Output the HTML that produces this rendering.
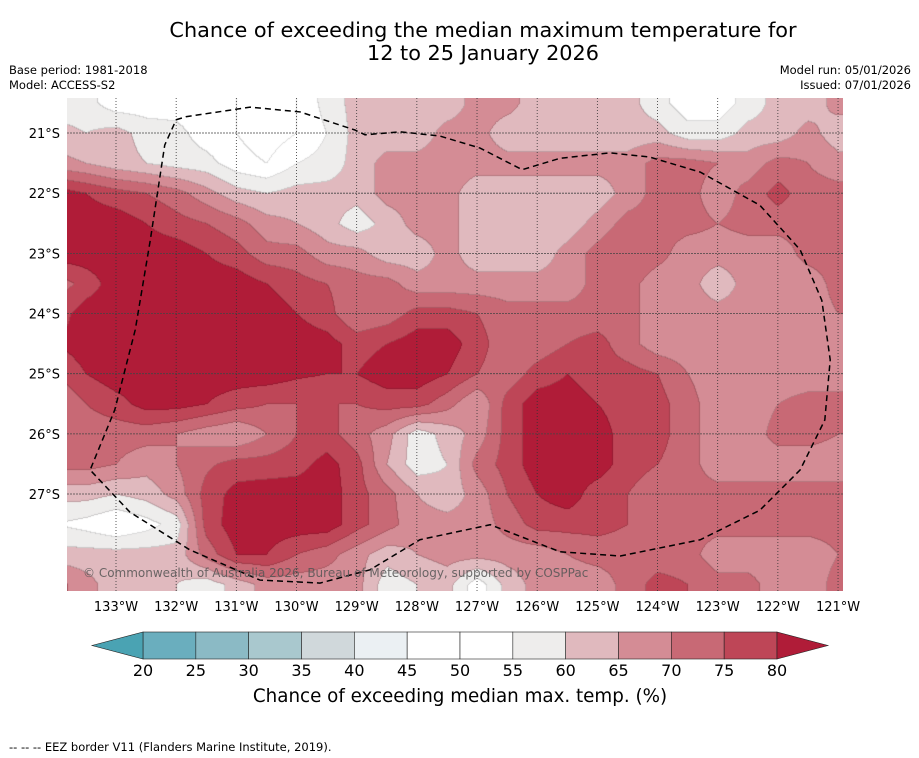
<!DOCTYPE html>
<html><head><meta charset="utf-8"><style>
body{margin:0;background:#fff;font-family:"DejaVu Sans","Liberation Sans",sans-serif;}
#wrap{position:relative;width:919px;height:758px;overflow:hidden;background:#fff}
.t{position:absolute;white-space:nowrap;color:#000}
</style></head><body>
<div id="wrap">
<div class="t" style="left:0;width:966px;text-align:center;top:19px;font-size:20.8px;line-height:23px">Chance of exceeding the median maximum temperature for<br>12 to 25 January 2026</div>
<div class="t" style="left:9px;top:63px;font-size:11.5px;line-height:15px">Base period: 1981-2018<br>Model: ACCESS-S2</div>
<div class="t" style="right:8px;top:63px;font-size:11.5px;line-height:15px;text-align:right">Model run: 05/01/2026<br>Issued: 07/01/2026</div>
<canvas id="map" width="776" height="493" style="position:absolute;left:67px;top:98px"></canvas>
<svg id="ov" width="919" height="758" style="position:absolute;left:0;top:0"></svg>
<div class="t" style="left:83px;top:566px;font-size:12px;color:#555;opacity:0.85">© Commonwealth of Australia 2026, Bureau of Meteorology, supported by COSPPac</div>
<div class="t" style="left:0;width:920px;text-align:center;top:686px;font-size:18.3px">Chance of exceeding median max. temp. (%)</div>
<div class="t" style="left:9px;top:740px;font-size:11.5px">--  --  -- EEZ border V11 (Flanders Marine Institute, 2019).</div>
</div>
<script>
const levels=[20,25,30,35,40,45,50,55,60,65,70,75,80];
const bandColors=["#4aa3b3","#6aaebe","#8bbac5","#a9c8ce","#d0d8db","#ebf0f3","#ffffff","#ffffff","#eeedec","#e0b9be","#d48c95","#c86975","#be4657","#b01c38"];
const lonNodes=[134,133.5,133,132.5,132,131.5,131,130.5,130,129.5,129,128.5,128,127.5,127,126.5,126,125.5,125,124.5,124,123.5,123,122.5,122,121.5,121,120.5];
const latNodes=[20,20.5,21,21.5,22,22.5,23,23.5,24,24.5,25,25.5,26,26.5,27,27.5,28,28.5,29];
const r1=[57,57,52,52,52,50,50,48,50,57,62,62,62,62,67,67,62,62,62,62,57,52,52,57,62,62,67,67];
const values=[
r1,
r1,
[62,60,62,58,57,52,50,47,50,55,62,62,62,67,67,62,62,62,62,62,62,57,57,62,62,67,62,62],
[67,65,62,60,58,57,52,50,55,57,62,67,67,67,67,67,67,67,67,67,72,72,70,67,72,70,67,67],
[83,80,77,75,72,67,62,60,62,62,62,67,67,67,62,62,62,62,62,67,72,72,67,72,77,72,72,72],
[83,83,83,80,77,75,72,67,65,62,57,62,67,67,62,60,60,62,67,72,72,72,70,72,72,72,72,72],
[83,83,83,83,83,80,77,72,72,67,67,62,62,67,62,62,62,67,72,75,72,67,67,67,67,72,72,72],
[72,77,83,83,83,83,83,80,77,75,72,72,67,67,67,67,67,67,72,72,67,67,62,67,67,67,72,72],
[77,83,83,83,83,83,83,83,80,77,70,72,77,77,75,72,72,72,72,72,67,67,67,67,67,67,70,70],
[80,83,83,83,83,83,83,83,83,82,78,80,83,83,77,72,72,75,77,72,67,67,67,67,67,67,67,67],
[75,80,83,83,83,83,83,83,81,80,80,83,83,80,75,72,77,80,77,77,75,70,67,67,67,67,67,67],
[70,75,78,82,82,80,77,75,75,75,75,77,77,72,65,77,83,83,80,77,77,72,67,67,70,72,72,72],
[70,72,72,72,70,67,65,70,75,77,72,67,57,62,67,77,83,83,83,77,77,72,67,67,72,72,70,70],
[72,72,70,67,70,74,77,77,78,82,77,65,57,60,72,77,83,83,83,77,75,72,67,67,67,67,67,67],
[62,62,60,62,67,77,82,83,83,83,77,72,65,62,67,75,80,83,77,75,72,72,72,72,72,72,72,72],
[55,53,50,53,57,77,83,83,83,83,77,72,67,67,67,72,77,77,77,75,72,72,72,72,72,72,72,72],
[62,62,62,62,62,72,80,80,75,72,67,62,65,67,67,67,67,70,72,72,72,72,67,67,67,67,70,70],
[72,67,62,62,60,57,62,67,67,67,67,57,60,62,52,62,67,67,67,72,77,75,72,72,67,67,72,72],
[72,67,62,62,60,57,62,67,67,67,67,57,60,62,52,62,67,67,67,72,77,75,72,72,67,67,72,72]];
const lonTicks=["133°W","132°W","131°W","130°W","129°W","128°W","127°W","126°W","125°W","124°W","123°W","122°W","121°W"];
const lonTickVals=[133,132,131,130,129,128,127,126,125,124,123,122,121];
const latTicks=["21°S","22°S","23°S","24°S","25°S","26°S","27°S"];
const latTickVals=[21,22,23,24,25,26,27];
const eezLon=[132.0,131.84,130.77,129.94,129.03,128.86,128.28,127.62,126.95,126.25,125.62,124.79,124.13,123.29,122.30,121.63,121.27,121.13,121.22,121.63,122.30,123.29,124.62,125.62,126.78,127.95,128.78,129.61,130.61,131.77,132.77,133.43,133.02,132.68,132.43,132.19,132.0];
const eezLat=[20.78,20.73,20.57,20.65,20.95,21.03,20.98,21.05,21.25,21.61,21.42,21.33,21.40,21.65,22.20,22.94,23.78,24.77,25.77,26.60,27.27,27.76,28.03,27.96,27.51,27.76,28.26,28.48,28.43,27.93,27.30,26.60,25.60,24.27,22.78,21.20,20.78];

const PX=60.17;
function X(lon){return 116+(133-lon)*PX;}
function Y(lat){return 133+(lat-21)*PX;}
function band(v){let b=0;for(let i=0;i<levels.length;i++){if(v>=levels[i])b=i+1;}return b;}
function hex(c){return [parseInt(c.substr(1,2),16),parseInt(c.substr(3,2),16),parseInt(c.substr(5,2),16)];}
const rgb=bandColors.map(hex);

(function(){
 const cv=document.getElementById('map'),ctx=cv.getContext('2d');
 const W=cv.width,H=cv.height,img=ctx.createImageData(W,H);
 const x0=X(lonNodes[0]),dx=X(lonNodes[1])-x0,y0=Y(latNodes[0]),dy=Y(latNodes[1])-y0;
 const B=new Uint8Array(W*H);
 for(let py=0;py<H;py++){
  const fy=(py+98-y0)/dy;let i=Math.min(Math.max(Math.floor(fy),0),latNodes.length-2);const ty=fy-i;
  for(let px=0;px<W;px++){
   const fx=(px+67-x0)/dx;let j=Math.min(Math.max(Math.floor(fx),0),lonNodes.length-2);const tx=fx-j;
   const v=(values[i][j]*(1-tx)+values[i][j+1]*tx)*(1-ty)+(values[i+1][j]*(1-tx)+values[i+1][j+1]*tx)*ty;
   B[py*W+px]=band(v);
  }
 }
 for(let py=0;py<H;py++)for(let px=0;px<W;px++){
  const b=B[py*W+px];let c=rgb[b];const k=(py*W+px)*4;
  const edge=(px+1<W&&B[py*W+px+1]!==b)||(py+1<H&&B[(py+1)*W+px]!==b);
  const f=edge?0.85:1;
  img.data[k]=c[0]*f;img.data[k+1]=c[1]*f;img.data[k+2]=c[2]*f;img.data[k+3]=255;
 }
 ctx.putImageData(img,0,0);
})();

const NS="http://www.w3.org/2000/svg";
const ov=document.getElementById('ov');
function mk(tag,attrs){const e=document.createElementNS(NS,tag);for(const k in attrs)e.setAttribute(k,attrs[k]);ov.appendChild(e);return e;}
lonTickVals.forEach((v,i)=>{
 const g=mk('line',{x1:X(v),x2:X(v),y1:98,y2:591,stroke:'#333','stroke-width':0.8,'stroke-dasharray':'1,2'});
 
 
 const t=mk('text',{x:X(v),y:611,'text-anchor':'middle','font-size':13,'font-family':'DejaVu Sans, Liberation Sans, sans-serif'});
 t.textContent=lonTicks[i];
 
 
});
latTickVals.forEach((v,i)=>{
 const g=mk('line',{x1:67,x2:843,y1:Y(v),y2:Y(v),stroke:'#444','stroke-width':0.8,'stroke-dasharray':'2,1'});
 
 
 const t=mk('text',{x:60,y:Y(v)+5,'text-anchor':'end','font-size':13,'font-family':'DejaVu Sans, Liberation Sans, sans-serif'});
 t.textContent=latTicks[i];
 
 
});
const eez=mk('polyline',{points:eezLon.map((l,i)=>X(l)+','+Y(eezLat[i])).join(' '),fill:'none',stroke:'#000','stroke-width':1.5,'stroke-dasharray':'6,4'});


const cbL=143,cbR=777,cbT=632,cbB=659,segW=(cbR-cbL)/(levels.length-1);
for(let i=0;i<levels.length-1;i++){
 const r=mk('rect',{x:cbL+i*segW,y:cbT,width:segW,height:cbB-cbT,fill:bandColors[i+1],stroke:'#222','stroke-width':0.6});
 
 
}
const tl=mk('polygon',{points:`${cbL},${cbT} ${cbL},${cbB} 92,${(cbT+cbB)/2}`,fill:bandColors[0],stroke:'#222','stroke-width':0.6});


const tr=mk('polygon',{points:`${cbR},${cbT} ${cbR},${cbB} 828,${(cbT+cbB)/2}`,fill:bandColors[13],stroke:'#222','stroke-width':0.6});


levels.forEach((v,i)=>{
 const t=mk('text',{x:cbL+i*segW,y:676,'text-anchor':'middle','font-size':16,'font-family':'DejaVu Sans, Liberation Sans, sans-serif'});
 t.textContent=v;
 
 
});
</script>
</body></html>
